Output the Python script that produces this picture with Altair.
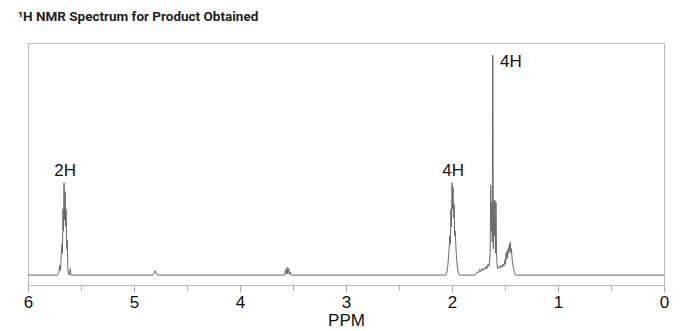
import altair as alt
import pandas as pd

# Spectrum trace (chemical shift in ppm, relative intensity)
ppm = [6.00, 5.72, 5.71, 5.70, 5.695, 5.69, 5.68, 5.675, 5.67, 5.665, 5.66, 5.655, 5.65, 5.645,
       5.64, 5.635, 5.63, 5.625, 5.62, 5.61, 5.60, 5.595,
       4.82, 4.80, 4.78,
       3.58, 3.57, 3.565, 3.555, 3.55, 3.54, 3.535, 3.525, 3.52,
       2.06, 2.05, 2.04, 2.03, 2.02, 2.015, 2.01, 2.005, 2.00, 1.995, 1.99, 1.985, 1.98, 1.975,
       1.97, 1.96, 1.95, 1.94, 1.93,
       1.78, 1.76, 1.75, 1.74, 1.73, 1.72, 1.71, 1.70, 1.69, 1.68, 1.67, 1.66, 1.65, 1.64,
       1.635, 1.63, 1.625, 1.62, 1.615, 1.61, 1.605, 1.60, 1.595, 1.59, 1.585, 1.58, 1.575,
       1.57, 1.56, 1.55, 1.54, 1.53, 1.52, 1.51, 1.50, 1.495, 1.49, 1.485, 1.48, 1.475, 1.47,
       1.465, 1.46, 1.455, 1.45, 1.445, 1.44, 1.43, 1.42, 1.41, 1.40, 0.00]
intensity = [0, 0, 1, 4.5, 2, 6, 14, 10, 30, 20, 42, 25, 38, 22,
             30, 12, 16, 4, 1, 0, 3, 0,
             0, 2, 0,
             0, 2.5, 0.5, 3.5, 0.5, 3, 0.5, 1.5, 0,
             0, 1, 4, 10, 18, 14, 30, 22, 42, 30, 40, 26, 32, 18,
             20, 10, 4, 1, 0,
             0, 1.5, 1, 2.5, 1.5, 3, 2, 3, 2.5, 4, 3, 5, 4, 10,
             41, 20, 33, 15, 100, 12, 34, 18, 34, 10, 33, 10, 5,
             3, 4, 3, 4.5, 3.5, 5, 4, 7, 5, 10, 7, 11, 8, 12,
             10, 14, 11, 15, 10, 12, 6, 3, 1, 0, 0]

# Integration labels
label_text = ["2H", "4H", "4H"]
label_ppm = [5.65, 1.99, 1.445]
label_height = [47.5, 47.5, 97]

tick_values = [0, 0.5, 1, 1.5, 2, 2.5, 3, 3.5, 4, 4.5, 5, 5.5, 6]

spec = pd.DataFrame({"ppm": ppm, "intensity": intensity})
labels = pd.DataFrame({"text": label_text, "ppm": label_ppm, "h": label_height})

xscale = alt.Scale(domain=[0, 6], reverse=True, nice=False, zero=False)
yscale = alt.Scale(domain=[-4.5, 105.5], nice=False, zero=False)

xaxis = alt.Axis(
    title="PPM",
    values=tick_values,
    labelExpr="datum.value % 1 === 0 ? format(datum.value, 'd') : ''",
    tickSize={"condition": {"test": "datum.value % 1 !== 0", "value": 5}, "value": 7},
    tickColor="#aaaaaa",
    domainColor="#bbbbbb",
    grid=False,
    labelFont="Liberation Sans",
    labelFontSize=17,
    labelColor="#111111",
    labelPadding=2,
    labelFlush=False,
    labelOverlap=False,
    titleFont="Liberation Sans",
    titleFontSize=17,
    titleFontWeight="normal",
    titleColor="#111111",
    titlePadding=2,
)

line = alt.Chart(spec).mark_line(color="#6a6a6a", strokeWidth=1, interpolate="linear").encode(
    x=alt.X("ppm:Q", scale=xscale, axis=xaxis),
    y=alt.Y("intensity:Q", scale=yscale, axis=None),
)

text = alt.Chart(labels).mark_text(
    font="Liberation Sans", fontSize=17, color="#111111", baseline="middle", align="center"
).encode(
    x=alt.X("ppm:Q", scale=xscale),
    y=alt.Y("h:Q", scale=yscale),
    text="text:N",
)

chart = alt.layer(line, text).properties(
    width=636,
    height=242,
    autosize=alt.AutoSizeParams(type="none"),
    padding={"left": 28, "top": 43, "right": 36, "bottom": 46},
    title=alt.TitleParams(
        text="¹H NMR Spectrum for Product Obtained",
        anchor="start",
        frame="group",
        dx=-10,
        offset=20,
        font="Roboto",
        fontSize=13.5,
        fontWeight="bold",
        color="#222222",
    ),
).configure_view(stroke="#bbbbbb", strokeWidth=1)

chart.save("out.html", embed_options={"renderer": "svg", "actions": False})
